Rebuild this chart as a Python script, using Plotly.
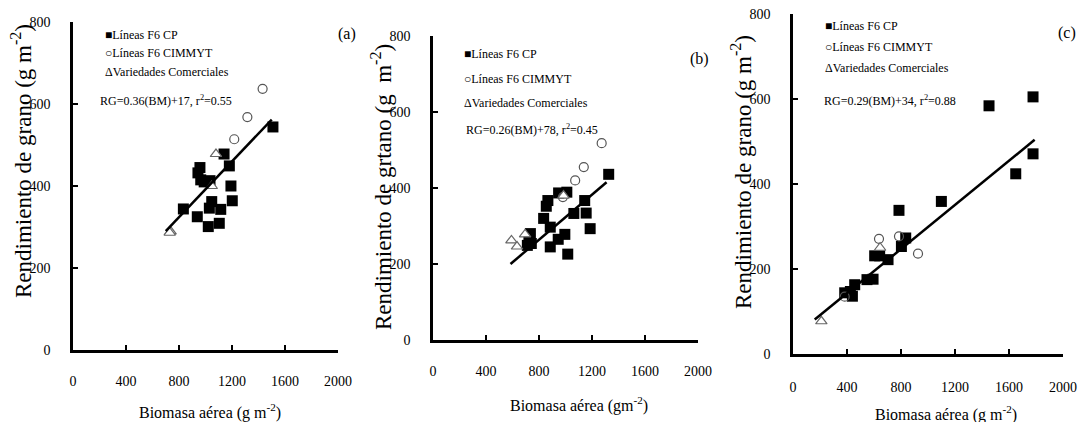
import plotly.graph_objects as go

# ---------------- data ----------------
# Panel (a)
cp_a_x = [1509, 1140, 1180, 958, 943, 964, 990, 1034, 1192, 1202, 833, 1047, 1029, 1115, 938, 1021, 1104]
cp_a_y = [544, 478, 449, 445, 432, 415, 410, 413, 400, 364, 344, 362, 346, 343, 325, 301, 309]
cim_a_x = [1431, 1316, 1217]
cim_a_y = [637, 568, 514]
var_a_x = [1079, 1047, 737, 730]
var_a_y = [478, 400, 289, 286]
fit_a_x = [700, 1500]
fit_a_y = [290, 562]

# Panel (b)
cp_b_x = [1326, 1145, 1156, 1186, 1063, 1010, 948, 867, 855, 835, 885, 995, 945, 885, 1017, 735, 724, 742, 712]
cp_b_y = [436, 367, 334, 293, 333, 389, 387, 367, 352, 320, 297, 278, 265, 245, 226, 280, 261, 254, 249]
cim_b_x = [1273, 1138, 1073, 980]
cim_b_y = [518, 455, 420, 376]
var_b_x = [592, 634, 695, 985]
var_b_y = [262, 246, 278, 380]
fit_b_x = [585, 1310]
fit_b_y = [200, 415]

# Panel (c)
cp_c_x = [1778, 1452, 1778, 1650, 1099, 785, 835, 803, 704, 642, 605, 593, 548, 457, 383, 440, 425]
cp_c_y = [605, 584, 471, 424, 359, 338, 273, 253, 222, 231, 231, 176, 175, 163, 144, 136, 147]
cim_c_x = [637, 785, 926, 383]
cim_c_y = [271, 277, 236, 135]
var_c_x = [210, 645]
var_c_y = [77, 250]
fit_c_x = [161, 1790]
fit_c_y = [81, 504]

x_ticks = [0, 400, 800, 1200, 1600, 2000]
y_ticks = [0, 200, 400, 600, 800]

series_names = ["Líneas F6 CP", "Líneas F6 CIMMYT", "Variedades Comerciales"]
equations = ["RG=0.36(BM)+17, r<sup>2</sup>=0.55",
             "RG=0.26(BM)+78, r<sup>2</sup>=0.45",
             "RG=0.29(BM)+34, r<sup>2</sup>=0.88"]
panel_labels = ["(a)", "(b)", "(c)"]
y_titles = ["Rendimiento de grano (g m<sup>-2</sup>)",
            "Rendimiento de grtano (g  m<sup>-2</sup>)",
            "Rendimiento de grano (g m<sup>-2</sup>)"]
x_titles = ["Biomasa aérea (g m<sup>-2</sup>)",
            "Biomasa aérea (gm<sup>-2</sup>)",
            "Biomasa aérea (g m<sup>-2</sup>)"]

# ---------------- layout geometry ----------------
W, H = 1079, 422
FONT = "Liberation Serif"

def px(x):
    return x / W

def py(y):
    return 1 - y / H

# plot boxes in pixels: (left, right, top, bottom)
boxes = [(73, 338, 22, 350), (433, 698, 36, 340), (793, 1063, 14, 354)]
x_standoff = [16, 16, 18]

panels = [
    (cp_a_x, cp_a_y, cim_a_x, cim_a_y, var_a_x, var_a_y, fit_a_x, fit_a_y),
    (cp_b_x, cp_b_y, cim_b_x, cim_b_y, var_b_x, var_b_y, fit_b_x, fit_b_y),
    (cp_c_x, cp_c_y, cim_c_x, cim_c_y, var_c_x, var_c_y, fit_c_x, fit_c_y),
]

fig = go.Figure()

for i, (cx, cy, ix, iy, vx, vy, fx, fy) in enumerate(panels):
    xa = "x" if i == 0 else f"x{i+1}"
    ya = "y" if i == 0 else f"y{i+1}"
    fig.add_trace(go.Scatter(x=cx, y=cy, mode="markers", name=series_names[0],
                             xaxis=xa, yaxis=ya, showlegend=False,
                             marker=dict(symbol="square", size=11, color="black")))
    fig.add_trace(go.Scatter(x=ix, y=iy, mode="markers", name=series_names[1],
                             xaxis=xa, yaxis=ya, showlegend=False,
                             marker=dict(symbol="circle-open", size=9,
                                         line=dict(color="#555555", width=1.2),
                                         color="#555555")))
    fig.add_trace(go.Scatter(x=vx, y=vy, mode="markers", name=series_names[2],
                             xaxis=xa, yaxis=ya, showlegend=False,
                             marker=dict(symbol="triangle-up", size=10, color="white",
                                         line=dict(color="#666666", width=1.2))))
    fig.add_trace(go.Scatter(x=fx, y=fy, mode="lines", name="RG",
                             xaxis=xa, yaxis=ya, showlegend=False,
                             line=dict(color="black", width=2.5)))

axis_common = dict(showline=True, linecolor="black", linewidth=2.5,
                   ticks="inside", ticklen=5, tickwidth=2, tickcolor="black",
                   showgrid=False, zeroline=False, automargin=False,
                   tickfont=dict(family=FONT, size=14, color="black"))

layout = dict(template="none", width=W, height=H,
              margin=dict(l=0, r=0, t=0, b=0, pad=0, autoexpand=False),
              paper_bgcolor="white", plot_bgcolor="white", showlegend=False,
              font=dict(family=FONT, color="black"))

for i, (l, r, t, b) in enumerate(boxes):
    sx = "" if i == 0 else str(i + 1)
    layout["xaxis" + sx] = dict(axis_common, domain=[px(l), px(r)], range=[0, 2000],
                                tickvals=x_ticks, anchor="y" + sx,
                                ticklabelstandoff=x_standoff[i])
    layout["yaxis" + sx] = dict(axis_common, domain=[py(b), py(t)], range=[0, 800],
                                tickvals=y_ticks, anchor="x" + sx,
                                ticklabelstandoff=17)

fig.update_layout(**layout)

ann = []

def text(x, y, s, size, xanchor="center", angle=0):
    ann.append(dict(x=px(x), y=py(y), xref="paper", yref="paper", text=s,
                    showarrow=False, xanchor=xanchor, yanchor="middle",
                    textangle=angle,
                    font=dict(family=FONT, size=size, color="black")))

# axis titles
x_title_pos = [(210, 411), (579, 404), (946, 413)]
y_title_pos = [(21, 161), (381, 187), (741, 172)]
for i in range(3):
    text(*x_title_pos[i], x_titles[i], 16)
    text(*y_title_pos[i], y_titles[i], 23, angle=-90)

# panel labels
label_pos = [(347, 34), (699, 59), (1067, 33)]
for i in range(3):
    text(*label_pos[i], panel_labels[i], 16)

# legend-like text blocks
glyphs = ["■", "○", "Δ"]
legend_x = [103, 462, 823]
legend_rows = [(35, 53, 72), (54, 79, 103), (26, 47, 68)]
eq_pos = [(98, 100), (464, 130), (822, 100)]
for i in range(3):
    for g, nm, yy in zip(glyphs, series_names, legend_rows[i]):
        text(legend_x[i], yy, g + nm, 12, xanchor="left")
    text(*eq_pos[i], equations[i], 12, xanchor="left")

fig.update_layout(annotations=ann)

fig.write_html("out.html",
               config={"displayModeBar": False},
               post_script="document.body.style.margin='0px';"
                           "document.body.style.overflow='hidden';")
